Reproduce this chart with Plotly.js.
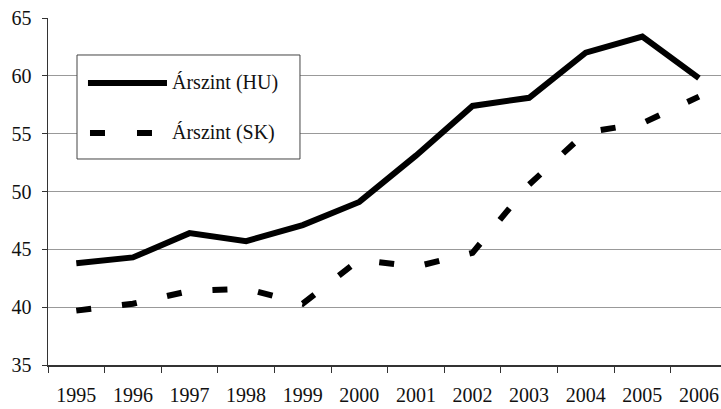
<!DOCTYPE html>
<html>
<head>
<meta charset="utf-8">
<script src="https://cdn.plot.ly/plotly-3.0.1.min.js"></script>
<style>html,body{margin:0;padding:0;background:#fff;}#chart{width:721px;height:409px;}</style>
</head>
<body>
<div id="chart"></div>
<script>
const years = ['1995','1996','1997','1998','1999','2000','2001','2002','2003','2004','2005','2006'];
const huValues = [43.8, 44.3, 46.4, 45.7, 47.1, 49.1, 53.1, 57.4, 58.1, 62.0, 63.4, 59.8];
const skValues = [39.7, 40.3, 41.4, 41.6, 40.3, 44.1, 43.5, 44.7, 50.6, 55.1, 55.9, 58.2];
const seriesNames = ['Árszint (HU)', 'Árszint (SK)'];
const yTicks = [35, 40, 45, 50, 55, 60, 65];

const font = 'Liberation Serif, Times New Roman, serif';

const traces = [
  {x: years, y: huValues, name: seriesNames[0], type: 'scatter', mode: 'lines',
   line: {color: '#000', width: 6}, showlegend: false},
  {x: years, y: skValues, name: seriesNames[1], type: 'scatter', mode: 'lines',
   line: {color: '#000', width: 6, dash: '15px,31px'}, showlegend: false}
];

const layout = {
  width: 721, height: 409,
  margin: {l: 48, r: 0, t: 18, b: 44},
  paper_bgcolor: '#fff', plot_bgcolor: '#fff',
  font: {family: font, size: 20, color: '#111'},
  showlegend: false,
  xaxis: {
    type: 'category', range: [-0.5, 11.39],
    showgrid: false, showline: true, linecolor: '#333', linewidth: 1.5,
    ticks: 'outside', ticklen: 6, tickcolor: '#333', tickson: 'boundaries',
    tickfont: {family: font, size: 20, color: '#111'}, zeroline: false,
    ticklabelstandoff: 11
  },
  yaxis: {
    range: [35, 65], tickvals: yTicks, ticktext: yTicks.map(String),
    showgrid: true, gridcolor: '#999', gridwidth: 1,
    showline: true, linecolor: '#333', linewidth: 1.5,
    ticks: 'outside', ticklen: 5, tickcolor: '#333',
    tickfont: {family: font, size: 20, color: '#111'}, zeroline: false,
    ticklabelstandoff: 6
  },
  shapes: [
    {type: 'rect', xref: 'paper', yref: 'paper', x0: 0.0431, x1: 0.3744, y0: 0.5937, y1: 0.8934,
     line: {color: '#444', width: 1}, fillcolor: '#fff', layer: 'above'},
    {type: 'line', xref: 'paper', yref: 'paper', x0: 0.0594, x1: 0.1768, y0: 0.8127, y1: 0.8127,
     line: {color: '#000', width: 6}, layer: 'above'},
    {type: 'line', xref: 'paper', yref: 'paper', x0: 0.0624, x1: 0.1545, y0: 0.6686, y1: 0.6686,
     line: {color: '#000', width: 6, dash: '15px,32px'}, layer: 'above'}
  ],
  annotations: [
    {xref: 'paper', yref: 'paper', x: 0.1813, y: 0.8127, xanchor: 'left', yanchor: 'middle',
     text: seriesNames[0], showarrow: false, font: {family: font, size: 20, color: '#111'}},
    {xref: 'paper', yref: 'paper', x: 0.1813, y: 0.6686, xanchor: 'left', yanchor: 'middle',
     text: seriesNames[1], showarrow: false, font: {family: font, size: 20, color: '#111'}}
  ]
};

Plotly.newPlot('chart', traces, layout, {displayModeBar: false, staticPlot: true});
</script>
</body>
</html>
